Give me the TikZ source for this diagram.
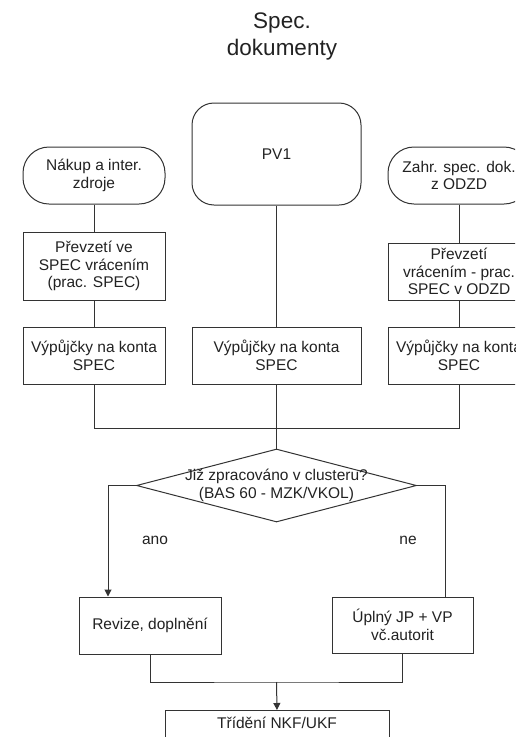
\documentclass[tikz,border=0pt]{standalone}
\usepackage{fontspec}
\setmainfont{Liberation Sans}
\usetikzlibrary{shapes.geometric,arrows.meta}
\definecolor{linec}{HTML}{333333}
\definecolor{textc}{HTML}{222222}
\begin{document}
\begin{tikzpicture}[x=1pt,y=-1pt,
  box/.style={draw=linec, line width=1pt, fill=white, minimum width=142pt,
    inner sep=2pt, align=center, text=textc, font=\fontsize{15.5}{17.8}\selectfont},
  term/.style={box, rounded corners=26pt},
  conn/.style={draw=linec, line width=1pt},
  arr/.style={conn, -{Triangle[width=7pt,length=7pt]}},
  lbl/.style={text=textc, font=\fontsize{15.5}{17.8}\selectfont, inner sep=0pt},
  ttl/.style={text=textc, font=\fontsize{22.5}{27}\selectfont, inner sep=0pt, anchor=base}]
\useasboundingbox (0,0) rectangle (515,737);
\fill[white] (0,0) rectangle (515,737);
\clip (0,0) rectangle (515,737);
% title
\node[ttl] (t1) at (282,28) {Spec.};
\node[ttl] (t2) at (282,55) {dokumenty};
% left column
\node[term, minimum height=57pt] (L0) at (94,175.5) {Nákup a inter.\\zdroje};
\node[box, minimum height=68pt] (L1) at (94,266) {Převzetí ve\\SPEC vrácením\\(prac. SPEC)};
\node[box, minimum height=57pt] (L2) at (94,355.5) {Výpůjčky na konta\\SPEC};
% middle column
\node[box, rounded corners=22pt, minimum width=169pt, minimum height=102pt] (M0) at (276.5,154) {PV1};
\node[box, minimum width=169pt, minimum height=57pt] (M2) at (276.5,355.5) {Výpůjčky na konta\\SPEC};
% right column
\node[term, minimum height=57pt] (R0) at (459,175.5) {Zahr. spec. dok.\\z ODZD};
\node[box, minimum height=57pt] (R1) at (459,271.5) {Převzetí\\vrácením - prac.\\SPEC v ODZD};
\node[box, minimum height=57pt] (R2) at (459,355.5) {Výpůjčky na konta\\SPEC};
% decision
\node[diamond, draw=linec, line width=1pt, fill=white, minimum width=280pt, minimum height=73pt, inner sep=0pt] (D) at (276.5,485.5) {};
\node[lbl, align=center] (Dt) at (276.5,485.5) {Již zpracováno v clusteru?\\(BAS 60 - MZK/VKOL)};
% results
\node[box, minimum height=57pt] (Rev) at (150,625.5) {Revize, doplnění};
\node[box, minimum width=141pt, minimum height=56pt] (Upl) at (402.5,625) {Úplný JP + VP\\vč.autorit};
\node[box, minimum width=224pt, minimum height=70pt, anchor=north] (S) at (277,710) {};
\node[lbl] (St) at (277,723) {Třídění NKF/UKF};
% labels
\node[lbl] (ano) at (155,540) {ano};
\node[lbl] (ne) at (408,540) {ne};
% coordinates
\coordinate (mL) at (94,428);
\coordinate (mR) at (459,428);
\coordinate (aL) at (108,485.5);
\coordinate (aR) at (445,485.5);
\coordinate (bJ) at (276.5,682);
% connectors
\draw[conn] (L0.south) -- (L1.north);
\draw[conn] (L1.south) -- (L2.north);
\draw[conn] (M0.south) -- (M2.north);
\draw[conn] (R0.south) -- (R1.north);
\draw[conn] (R1.south) -- (R2.north);
\draw[conn] (L2.south) -- (mL) -- (mR) -- (R2.south);
\draw[conn] (M2.south) -- (D.north);
\draw[arr] (D.west) -- (aL) -- (aL |- Rev.north);
\draw[conn] (D.east) -- (aR) -- (aR |- Upl.north);
\draw[conn] (Rev.south) |- (bJ) -| (Upl.south);
\draw[arr] (bJ) -- (S.north);
\end{tikzpicture}
\end{document}
